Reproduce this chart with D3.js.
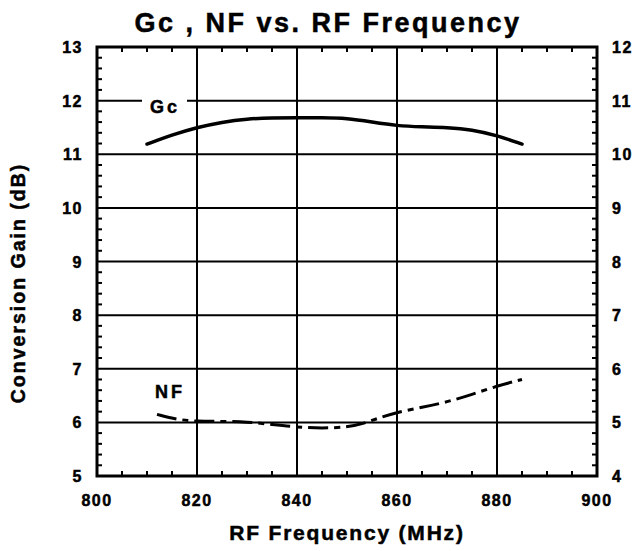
<!DOCTYPE html>
<html><head><meta charset="utf-8">
<script src="https://cdn.jsdelivr.net/npm/d3@7"></script>
<style>body{margin:0;background:#fff;}</style>
</head><body><svg id="c" width="635" height="551"></svg>
<script>
const freq = [810,815,820,825,830,835,840,845,850,855,860,865,870,875,880,885];
const gc = [11.19,11.36,11.50,11.60,11.66,11.68,11.68,11.68,11.67,11.60,11.53,11.51,11.50,11.46,11.35,11.19];
const nfFreq = [812,816,820,825,830,835,840,845,850,853,856,860,865,870,875,880,885];
const nf = [5.15,5.05,5.02,5.02,5.01,4.96,4.91,4.89,4.91,4.97,5.07,5.19,5.28,5.38,5.52,5.68,5.80];
const xTicks = [800,820,840,860,880,900];
const yLeftTicks = [5,6,7,8,9,10,11,12,13];
const yRightTicks = [4,5,6,7,8,9,10,11,12];

const svg = d3.select("#c");
const FONT = "'Liberation Sans', Arial, Helvetica, sans-serif";
const L=97,R=597,T=47,B=476;
const x = d3.scaleLinear().domain([800,900]).range([L,R]);
const y = d3.scaleLinear().domain([5,13]).range([B,T]);
const yR = d3.scaleLinear().domain([4,12]).range([B,T]);

function txt(sel){ return sel.attr("font-family",FONT).attr("font-weight","bold").attr("fill","#000").attr("stroke","#000").attr("stroke-width",0.5); }

const g = svg.append("g");
g.selectAll(".vg").data(xTicks).join("line").attr("x1",d=>x(d)).attr("x2",d=>x(d)).attr("y1",T).attr("y2",B).attr("stroke","#000").attr("stroke-width",2);
g.selectAll(".hg").data(yLeftTicks).join("line").attr("x1",L).attr("x2",R).attr("y1",d=>y(d)).attr("y2",d=>y(d)).attr("stroke","#000").attr("stroke-width",2);

const minorX = d3.range(800,900.1,5).filter(d=>d%20!==0);
minorX.forEach(d=>{
  g.append("line").attr("x1",x(d)).attr("x2",x(d)).attr("y1",B).attr("y2",B-5).attr("stroke","#000").attr("stroke-width",2);
  g.append("line").attr("x1",x(d)).attr("x2",x(d)).attr("y1",T).attr("y2",T+5).attr("stroke","#000").attr("stroke-width",2);
});
const minorY = d3.range(5,13.001,0.2).filter(d=>Math.abs(d-Math.round(d))>0.01);
minorY.forEach(d=>{
  g.append("line").attr("x1",L).attr("x2",L+5).attr("y1",y(d)).attr("y2",y(d)).attr("stroke","#000").attr("stroke-width",2);
  g.append("line").attr("x1",R).attr("x2",R-5).attr("y1",y(d)).attr("y2",y(d)).attr("stroke","#000").attr("stroke-width",2);
});
g.append("rect").attr("x",L).attr("y",T).attr("width",R-L).attr("height",B-T).attr("fill","none").attr("stroke","#000").attr("stroke-width",3);

txt(svg.selectAll(".xl").data(xTicks).join("text")).attr("x",d=>x(d)).attr("y",506).attr("text-anchor","middle").attr("font-size",16).attr("letter-spacing",1.5).text(d=>d);
txt(svg.selectAll(".yl").data(yLeftTicks).join("text")).attr("x",83).attr("y",d=>y(d)+6).attr("text-anchor","end").attr("font-size",16).attr("letter-spacing",1.5).text(d=>d);
txt(svg.selectAll(".yr").data(yRightTicks).join("text")).attr("x",612).attr("y",d=>yR(d)+6).attr("text-anchor","start").attr("font-size",16).attr("letter-spacing",1.5).text(d=>d);

const line = d3.line().x(d=>x(d[0])).y(d=>y(d[1])).curve(d3.curveBasis);
svg.append("path").attr("d",line(freq.map((f,i)=>[f,gc[i]]))).attr("fill","none").attr("stroke","#000").attr("stroke-width",3.5).attr("stroke-linecap","round");
const lineR = d3.line().x(d=>x(d[0])).y(d=>yR(d[1])).curve(d3.curveBasis);
svg.append("path").attr("d",lineR(nfFreq.map((f,i)=>[f,nf[i]]))).attr("fill","none").attr("stroke","#000").attr("stroke-width",3).attr("stroke-dasharray","20,6,6,6");

svg.append("rect").attr("x",142).attr("y",92).attr("width",45).attr("height",24).attr("fill","#fff");
txt(svg.append("text")).attr("x",150).attr("y",113).attr("font-size",18).attr("letter-spacing",3).text("Gc");
txt(svg.append("text")).attr("x",155).attr("y",398).attr("font-size",18).attr("letter-spacing",3).text("NF");

txt(svg.append("text")).attr("x",328).attr("y",32).attr("text-anchor","middle").attr("font-size",27).attr("letter-spacing",2.5).text("Gc , NF vs. RF Frequency");
txt(svg.append("text")).attr("x",347).attr("y",540).attr("text-anchor","middle").attr("font-size",21).attr("letter-spacing",1.8).text("RF Frequency (MHz)");
txt(svg.append("text")).attr("transform","translate(25,283) rotate(-90)").attr("text-anchor","middle").attr("font-size",19.5).attr("letter-spacing",2).text("Conversion Gain (dB)");
</script></body></html>
